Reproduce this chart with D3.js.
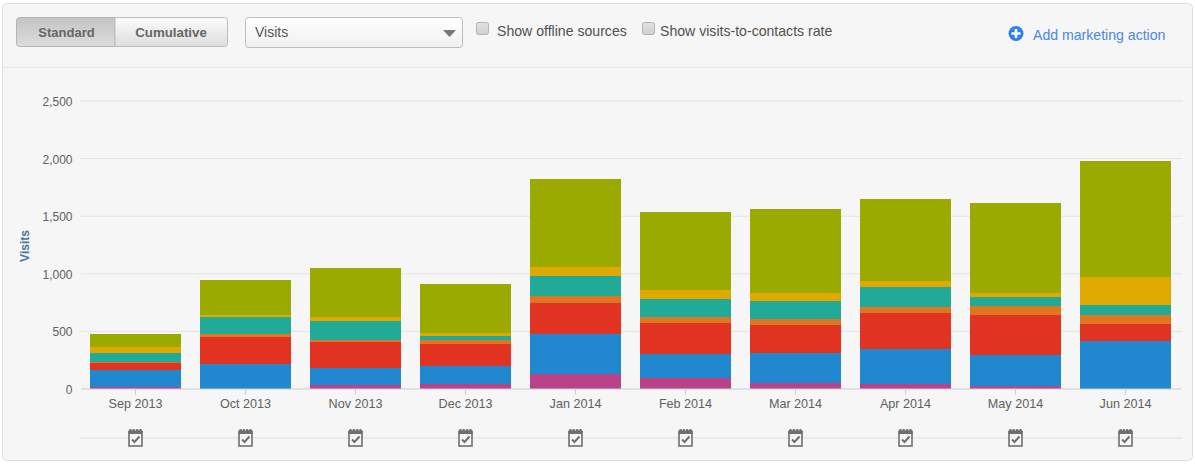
<!DOCTYPE html>
<html>
<head>
<meta charset="utf-8">
<script src="https://cdnjs.cloudflare.com/ajax/libs/d3/7.8.5/d3.min.js"></script>
<style>
  html, body { margin: 0; padding: 0; background: #fff; }
  svg { display: block; }
  text { font-family: "Liberation Sans", Arial, sans-serif; }
</style>
</head>
<body>
<div id="chart"></div>
<script>
const months = ["Sep 2013", "Oct 2013", "Nov 2013", "Dec 2013", "Jan 2014", "Feb 2014", "Mar 2014", "Apr 2014", "May 2014", "Jun 2014"];
const yTicks = [0, 500, 1000, 1500, 2000, 2500];

// bottom to top of each stack
const seriesA = [10, 0, 29, 40, 127, 95, 49, 40, 20, 0];
const seriesB = [152, 211, 153, 156, 347, 205, 260, 299, 269, 413];
const seriesC = [61, 238, 220, 191, 264, 267, 238, 315, 345, 145];
const seriesD = [9, 28, 17, 35, 66, 55, 55, 54, 86, 76];
const seriesE = [80, 142, 163, 32, 173, 153, 156, 172, 75, 95];
const seriesF = [50, 21, 37, 26, 76, 78, 75, 52, 35, 240];
const seriesG = [115, 306, 423, 431, 764, 677, 726, 714, 779, 1002];

const keys = ["a", "b", "c", "d", "e", "f", "g"];
const colors = ["#b94389", "#2187ce", "#e03321", "#df7622", "#22aa99", "#dfa900", "#9aaa00"];

const w = 1195;
const h = 464;
const plotLeft = 80.5, plotRight = 1180.5, plotTop = 100.5, plotBottom = 388.5;

const svg = d3.select("#chart").append("svg")
    .attr("width", w)
    .attr("height", h);

const defs = svg.append("defs");
function gradient(id, c1, c2) {
    const g = defs.append("linearGradient").attr("id", id).attr("x1", 0).attr("x2", 0).attr("y1", 0).attr("y2", 1);
    g.append("stop").attr("offset", "0%").attr("stop-color", c1);
    g.append("stop").attr("offset", "100%").attr("stop-color", c2);
}
gradient("btnOn", "#c4c4c4", "#dcdcdc");
gradient("btnOff", "#fbfbfb", "#dedede");
gradient("selectBg", "#ffffff", "#f0f0f0");
gradient("checkBg", "#e2e2e2", "#cfcfcf");

// panel
svg.append("rect")
    .attr("x", 2.5).attr("y", 3.5)
    .attr("width", 1190).attr("height", 457)
    .attr("rx", 4)
    .attr("fill", "#f6f6f6")
    .attr("stroke", "#dddddd");
svg.append("line")
    .attr("x1", 3).attr("x2", 1192)
    .attr("y1", 67.5).attr("y2", 67.5)
    .attr("stroke", "#e5e5e5");

// toolbar
svg.append("path")
    .attr("d", "M115,17.5H19.5a3,3 0 0 0 -3,3V43.5a3,3 0 0 0 3,3H115Z")
    .attr("fill", "url(#btnOn)")
    .attr("stroke", "#b5b5b5");
svg.append("path")
    .attr("d", "M115,17.5H224.5a3,3 0 0 1 3,3V43.5a3,3 0 0 1 -3,3H115Z")
    .attr("fill", "url(#btnOff)")
    .attr("stroke", "#bdbdbd");
svg.append("text").attr("x", 66.5).attr("y", 37).attr("text-anchor", "middle")
    .attr("font-size", 13).attr("font-weight", "bold").attr("fill", "#666666").text("Standard");
svg.append("text").attr("x", 171).attr("y", 37).attr("text-anchor", "middle")
    .attr("font-size", 13.3).attr("font-weight", "bold").attr("fill", "#666666").text("Cumulative");

svg.append("rect")
    .attr("x", 245.5).attr("y", 17.5)
    .attr("width", 217).attr("height", 30)
    .attr("rx", 3)
    .attr("fill", "url(#selectBg)")
    .attr("stroke", "#bdbdbd");
svg.append("text").attr("x", 255).attr("y", 37)
    .attr("font-size", 14).attr("fill", "#555555").text("Visits");
svg.append("path")
    .attr("d", "M443,30H456L449.5,37Z")
    .attr("fill", "#777777");

function checkbox(x, label, textX) {
    svg.append("rect")
        .attr("x", x).attr("y", 22.5)
        .attr("width", 12).attr("height", 12)
        .attr("rx", 2)
        .attr("fill", "url(#checkBg)")
        .attr("stroke", "#b3b3b3");
    svg.append("text").attr("x", textX).attr("y", 36)
        .attr("font-size", 14.1).attr("fill", "#505050").text(label);
}
checkbox(476.5, "Show offline sources", 497);
checkbox(642.5, "Show visits-to-contacts rate", 660);

svg.append("circle").attr("cx", 1016).attr("cy", 33.5).attr("r", 7.5).attr("fill", "#2f80e4");
svg.append("path").attr("d", "M1011.5,33.5H1020.5M1016,29V38")
    .attr("stroke", "#ffffff").attr("stroke-width", 2.6);
svg.append("text").attr("x", 1033).attr("y", 40)
    .attr("font-size", 14.1).attr("fill", "#4a86e8").text("Add marketing action");

// scales
const x = d3.scaleBand()
    .domain(months)
    .range([plotLeft, plotRight])
    .paddingInner(19 / 110)
    .paddingOuter(9.5 / 110);
const y = d3.scaleLinear()
    .domain([0, 2500])
    .range([plotBottom, plotTop]);

// grid and y axis
const yAxis = d3.axisLeft(y)
    .tickValues(yTicks)
    .tickFormat(d3.format(","))
    .tickSize(0)
    .tickPadding(8);
const gy = svg.append("g")
    .attr("transform", "translate(" + plotLeft + ",0)")
    .call(yAxis);
gy.select(".domain").remove();
gy.selectAll("text")
    .attr("font-family", "Liberation Sans, Arial, sans-serif")
    .attr("font-size", 12)
    .attr("dy", "0.42em")
    .attr("fill", "#606060");
gy.selectAll(".tick").filter(d => d > 0).append("line")
    .attr("x1", 0)
    .attr("x2", plotRight + 2 - plotLeft)
    .attr("stroke", "#e4e4e4");

svg.append("text")
    .attr("transform", "translate(29,246)rotate(-90)")
    .attr("text-anchor", "middle")
    .attr("font-size", 12)
    .attr("font-weight", "bold")
    .attr("fill", "#4d759e")
    .text("Visits");

// stacked bars
const rows = months.map((m, i) => ({
    month: m,
    a: seriesA[i], b: seriesB[i], c: seriesC[i], d: seriesD[i],
    e: seriesE[i], f: seriesF[i], g: seriesG[i]
}));
const stacked = d3.stack().keys(keys)(rows);

svg.append("g")
    .attr("shape-rendering", "crispEdges")
    .selectAll("g")
    .data(stacked)
    .enter()
    .append("g")
        .attr("fill", (d, i) => colors[i])
    .selectAll("rect")
    .data(d => d)
    .enter()
    .append("rect")
        .attr("x", d => x(d.data.month))
        .attr("y", d => y(d[1]))
        .attr("width", x.bandwidth())
        .attr("height", d => y(d[0]) - y(d[1]));

// x axis
const gx = svg.append("g")
    .attr("transform", "translate(0," + plotBottom + ")")
    .call(d3.axisBottom(x).tickSize(6).tickPadding(5).tickSizeOuter(0));
gx.select(".domain").attr("stroke", "#c8ccd2");
gx.selectAll(".tick line").attr("stroke", "#c8ccd2");
gx.selectAll("text")
    .attr("font-family", "Liberation Sans, Arial, sans-serif")
    .attr("font-size", 12.6)
    .attr("fill", "#606060");

// marketing action row
svg.append("line")
    .attr("x1", plotLeft).attr("x2", plotRight + 2)
    .attr("y1", 438).attr("y2", 438)
    .attr("stroke", "#e6e6e6")
    .attr("stroke-width", 1.5);

const icons = svg.append("g").selectAll("g")
    .data(months)
    .enter()
    .append("g")
        .attr("transform", d => "translate(" + (x(d) + x.bandwidth() / 2) + ",438)");
icons.append("rect")
    .attr("x", -6.5).attr("y", -6.5)
    .attr("width", 13).attr("height", 14.5)
    .attr("fill", "#f6f6f6")
    .attr("stroke", "#6f6f6f")
    .attr("stroke-width", 1.6);
icons.append("rect")
    .attr("x", -7).attr("y", -7)
    .attr("width", 14).attr("height", 3)
    .attr("fill", "#6f6f6f");
[-5, -1.7, 1.7, 5].forEach(dx => {
    icons.append("circle")
        .attr("cx", dx).attr("cy", -7.5)
        .attr("r", 1.4)
        .attr("fill", "#6f6f6f");
});
icons.append("path")
    .attr("d", "M-3.5,1.5L-1,4L4,-1.5")
    .attr("fill", "none")
    .attr("stroke", "#6f6f6f")
    .attr("stroke-width", 2);
</script>
</body>
</html>
